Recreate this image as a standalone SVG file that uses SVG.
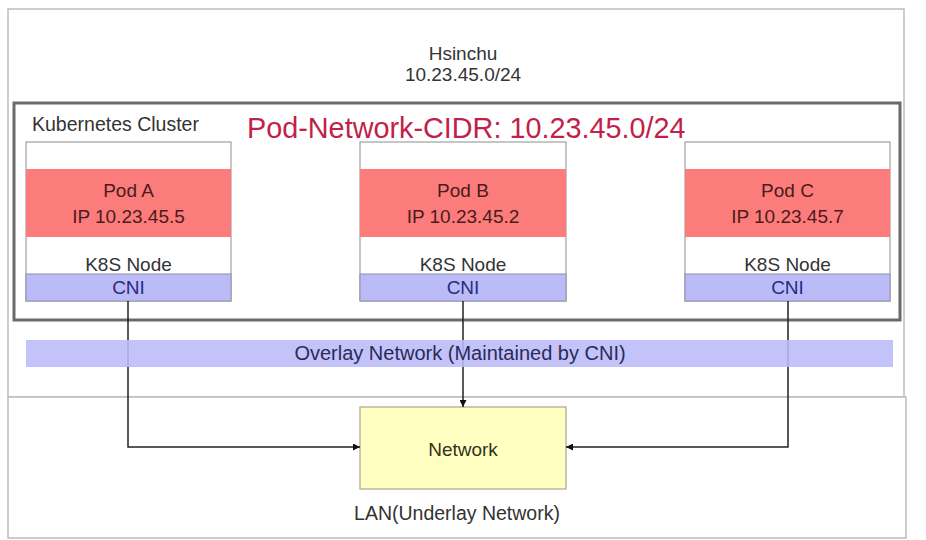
<svg xmlns="http://www.w3.org/2000/svg" width="926" height="540" viewBox="0 0 926 540">
<defs>
<style>
text{font-family:"Liberation Sans",Arial,sans-serif;font-size:19px;fill:#333;}
.c{text-anchor:middle;}
.zone{fill:#fff;stroke:#bdbdbd;stroke-width:1.5;}
.node{fill:#fff;stroke:#a0a0a0;stroke-width:1.2;}
.pod{fill:#fc7b7b;}
.cni{fill:#bbbbf8;stroke:#9090a8;stroke-width:1;}
.podt{fill:#4a1c1c;}
.cnit{fill:#2a2a80;}
.conn{fill:none;stroke:#222;stroke-width:1.5;}
</style>
<marker id="arr" viewBox="0 0 10 10" refX="10" refY="5" markerWidth="7" markerHeight="7" markerUnits="userSpaceOnUse" orient="auto">
<path d="M0,0 L10,5 L0,10 z" fill="#111"/>
</marker>
</defs>
<rect width="926" height="540" fill="#fff"/>

<g id="hsinchu">
<rect class="zone" x="8" y="9" width="896" height="388"/>
<text class="c" x="463" y="60">Hsinchu</text>
<text class="c" x="463" y="81">10.23.45.0/24</text>
</g>

<g id="lan">
<rect class="zone" x="8" y="397" width="898" height="141"/>
<text class="c" x="457" y="520" style="font-size:19.5px">LAN(Underlay Network)</text>
</g>

<g id="cluster">
<rect x="14" y="103" width="886" height="217" fill="#fff" stroke="#6a6a6a" stroke-width="3"/>
<text x="32" y="131" style="font-size:19.5px">Kubernetes Cluster</text>
<text x="247" y="138" style="font-size:28.8px;fill:#c21f4b">Pod-Network-CIDR: 10.23.45.0/24</text>
</g>

<g id="nodeA">
<rect class="node" x="26" y="142" width="205" height="159"/>
<rect class="pod" x="26" y="169" width="205" height="68"/>
<text class="c podt" x="128.5" y="197">Pod A</text>
<text class="c podt" x="128.5" y="223">IP 10.23.45.5</text>
<text class="c" x="128.5" y="271">K8S Node</text>
<rect class="cni" x="26" y="274" width="205" height="27"/>
<text class="c cnit" x="128.5" y="294">CNI</text>
</g>

<g id="nodeB">
<rect class="node" x="360" y="142" width="206" height="159"/>
<rect class="pod" x="360" y="169" width="206" height="68"/>
<text class="c podt" x="463" y="197">Pod B</text>
<text class="c podt" x="463" y="223">IP 10.23.45.2</text>
<text class="c" x="463" y="271">K8S Node</text>
<rect class="cni" x="360" y="274" width="206" height="27"/>
<text class="c cnit" x="463" y="294">CNI</text>
</g>

<g id="nodeC">
<rect class="node" x="685" y="142" width="205" height="159"/>
<rect class="pod" x="685" y="169" width="205" height="68"/>
<text class="c podt" x="787.5" y="197">Pod C</text>
<text class="c podt" x="787.5" y="223">IP 10.23.45.7</text>
<text class="c" x="787.5" y="271">K8S Node</text>
<rect class="cni" x="685" y="274" width="205" height="27"/>
<text class="c cnit" x="787.5" y="294">CNI</text>
</g>

<g id="network">
<rect x="360" y="407" width="206" height="82" fill="#ffffc2" stroke="#a8a88a" stroke-width="1.2"/>
<text class="c" x="463" y="456" style="fill:#33331a">Network</text>
</g>

<g id="connectors">
<path class="conn" d="M128,301 V447 H360" marker-end="url(#arr)"/>
<path class="conn" d="M463,301 V407" marker-end="url(#arr)"/>
<path class="conn" d="M788,301 V447 H566" marker-end="url(#arr)"/>
</g>

<g id="overlay">
<rect x="26" y="340" width="867" height="27" fill="#bbbbf8" fill-opacity="0.88"/>
<text class="c" x="460" y="360" style="font-size:20px;fill:#2a2a5a">Overlay Network (Maintained by CNI)</text>
</g>
</svg>
